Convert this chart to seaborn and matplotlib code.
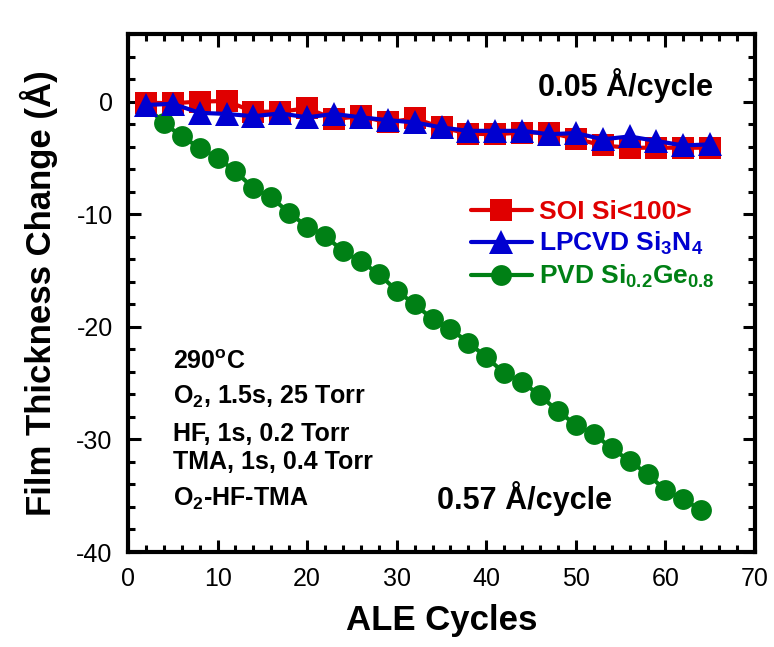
import matplotlib
matplotlib.use("Agg")
import matplotlib.pyplot as plt
import seaborn as sns
import pandas as pd

# data
soi_x = [2, 5, 8, 11, 14, 17, 20, 23, 26, 29, 32, 35, 38, 41, 44, 47, 50, 53, 56, 59, 62, 65]
soi_y = [-0.1, -0.15, 0.0, 0.05, -0.9, -0.9, -0.6, -1.55, -1.3, -1.85, -1.5, -2.3,
         -2.85, -2.9, -2.75, -2.75, -3.3, -3.9, -4.1, -4.1, -4.1, -4.1]
sin_x = soi_x
sin_y = [-0.3, -0.2, -1.0, -1.1, -1.3, -1.05, -1.4, -1.1, -1.4, -1.65, -1.85, -2.3,
         -2.6, -2.6, -2.6, -2.9, -2.8, -3.35, -3.1, -3.5, -3.9, -3.8]
sige_x = list(range(2, 66, 2))
sige_y = [-0.4, -1.9, -3.1, -4.1, -5.0, -6.2, -7.7, -8.5, -9.9, -11.1, -11.9, -13.3,
          -14.2, -15.3, -16.8, -18.0, -19.3, -20.2, -21.4, -22.7, -24.1, -24.9,
          -26.1, -27.5, -28.7, -29.5, -30.8, -31.9, -33.1, -34.5, -35.3, -36.3]

labels = ["SOI Si<100>", r"LPCVD Si$_3$N$_4$", r"PVD Si$_{0.2}$Ge$_{0.8}$"]
colors = ["#E00000", "#0000D0", "#008015"]
markers = ["s", "^", "o"]
msizes = [16, 17, 15]

sns.set_style("ticks")
plt.rcParams["font.family"] = ["Liberation Sans", "DejaVu Sans"]
plt.rcParams["mathtext.fontset"] = "custom"
plt.rcParams["mathtext.rm"] = "Liberation Sans:bold"
plt.rcParams["mathtext.it"] = "Liberation Sans:bold"
plt.rcParams["mathtext.bf"] = "Liberation Sans:bold"
plt.rcParams["mathtext.default"] = "rm"
plt.rcParams["axes.unicode_minus"] = False
for k in ["text.color", "axes.labelcolor", "xtick.color", "ytick.color", "axes.edgecolor"]:
    plt.rcParams[k] = "black"

fig = plt.figure(figsize=(7.74, 6.47), dpi=100)
ax = fig.add_axes([128 / 774, 1 - 552 / 647, (755 - 128) / 774, (552 - 34) / 647])

series = [(soi_x, soi_y), (sin_x, sin_y), (sige_x, sige_y)]
order = [2, 0, 1]
for i in order:
    x, y = series[i]
    df = pd.DataFrame({"x": x, "y": y})
    sns.lineplot(data=df, x="x", y="y", ax=ax, color=colors[i], lw=3,
                 marker=markers[i], markersize=msizes[i], markeredgewidth=0,
                 label=labels[i])

ax.set_xlim(0, 70)
ax.set_ylim(-40, 6)
ax.set_xticks(range(0, 71, 10))
ax.set_xticks(range(0, 71, 2), minor=True)
ax.set_yticks(range(-40, 1, 10))
ax.set_yticks(range(-40, 7, 2), minor=True)
ax.tick_params(which="both", direction="in", top=True, right=True, width=2.2,
               labelsize=18)
ax.tick_params(axis="x", pad=11)
ax.tick_params(axis="y", pad=11)
ax.tick_params(which="major", length=9)
ax.tick_params(which="minor", length=5)
for s in ax.spines.values():
    s.set_linewidth(3)

ax.set_xlabel("ALE Cycles", fontsize=25, fontweight="bold", labelpad=9)
ax.set_ylabel("Film Thickness Change (Å)", fontsize=25, fontweight="bold", labelpad=13)

h, l = ax.get_legend_handles_labels()
hmap = dict(zip(l, h))
leg = ax.legend([hmap[k] for k in labels], labels, loc="upper left",
                bbox_to_anchor=(0.53, 0.70), frameon=False, handlelength=2.3,
                handletextpad=0.3, labelspacing=0.22, borderaxespad=0,
                prop={"weight": "bold", "size": 19}, labelcolor="linecolor")

ax.text(45.8, 0.5, "0.05 Å/cycle", fontsize=22, fontweight="bold", va="baseline")
ax.text(34.5, -36.2, "0.57 Å/cycle", fontsize=22, fontweight="bold", va="baseline")
block = [(-23.75, r"290$^\mathregular{o}$C"), (-26.8, r"O$_2$, 1.5s, 25 Torr"),
         (-30.1, "HF, 1s, 0.2 Torr"), (-32.6, "TMA, 1s, 0.4 Torr"),
         (-35.9, r"O$_2$-HF-TMA")]
for yy, t in block:
    ax.text(5.0, yy, t, fontsize=18, fontweight="bold", va="baseline")

fig.savefig("out.png", dpi=100)
plt.close(fig)
